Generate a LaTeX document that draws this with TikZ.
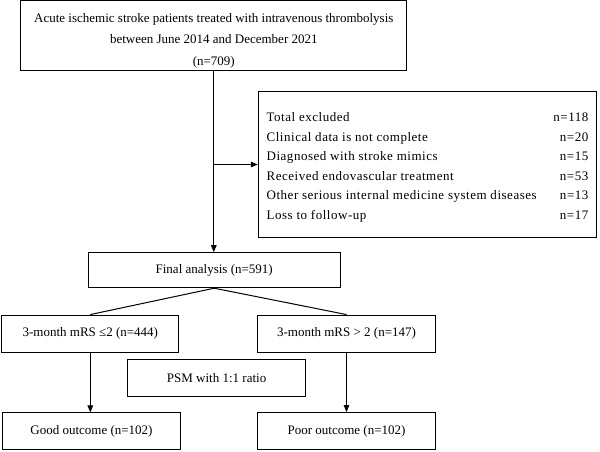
\documentclass[tikz,border=0pt]{standalone}
\usepackage{fontspec}
\setmainfont{Liberation Serif}
\newfontfamily\spacedfont[LetterSpace=4]{Liberation Serif}
\usetikzlibrary{arrows.meta}
\begin{document}
\begin{tikzpicture}[x=1pt,y=-1pt,
  box/.style={draw,line width=1pt,inner sep=0pt,align=center,font=\fontsize{13}{21.5}\selectfont},
  conn/.style={line width=1pt},
  arr/.style={conn,-{Triangle[length=7pt,width=5.5pt]}}]
\useasboundingbox (0,0) rectangle (600,451);
\node[box,minimum width=386.3pt,minimum height=69.7pt] (top) at (213.8,35.8)
  {\rule{0pt}{19pt}Acute ischemic stroke patients treated with intravenous thrombolysis\\between June 2014 and December 2021\\(n=709)};
\node[box,minimum width=338.4pt,minimum height=146pt,font=\fontsize{13}{19.6}\spacedfont] (excl) at (427.5,164.5)
  {\begin{tabular*}{321.7pt}{@{}l@{\extracolsep{\fill}}r@{}}
  \rule{0pt}{17.7pt}Total excluded & n=118\\
  Clinical data is not complete & n=20\\
  Diagnosed with stroke mimics & n=15\\
  Received endovascular treatment & n=53\\
  Other serious internal medicine system diseases & n=13\\
  Loss to follow-up & n=17
  \end{tabular*}};
\node[box,minimum width=251.7pt,minimum height=35pt] (final) at (214.2,270.2) {Final analysis (n=591)};
\node[box,minimum width=177.3pt,minimum height=37.3pt] (lmid) at (90.3,333.7) {3-month mRS ≤2 (n=444)};
\node[box,minimum width=178.4pt,minimum height=37.3pt] (rmid) at (346.5,333.7) {3-month mRS > 2 (n=147)};
\node[box,minimum width=177.8pt,minimum height=37.4pt] (psm) at (216.6,378) {PSM with 1:1 ratio};
\node[box,minimum width=177.6pt,minimum height=36.5pt] (good) at (91.5,431.2) {Good outcome (n=102)};
\node[box,minimum width=178.4pt,minimum height=36.8pt] (poor) at (346.5,431) {Poor outcome (n=102)};
\coordinate (split) at (top.south |- excl.west);
\draw[arr] (top.south) -- (top.south |- final.north);
\draw[arr] (split) -- (excl.west);
\draw[conn] (final.south) -- (lmid.north);
\draw[conn] (final.south) -- (rmid.north);
\draw[arr] (lmid.south) -- (lmid.south |- good.north);
\draw[arr] (rmid.south) -- (poor.north);
\end{tikzpicture}
\end{document}
